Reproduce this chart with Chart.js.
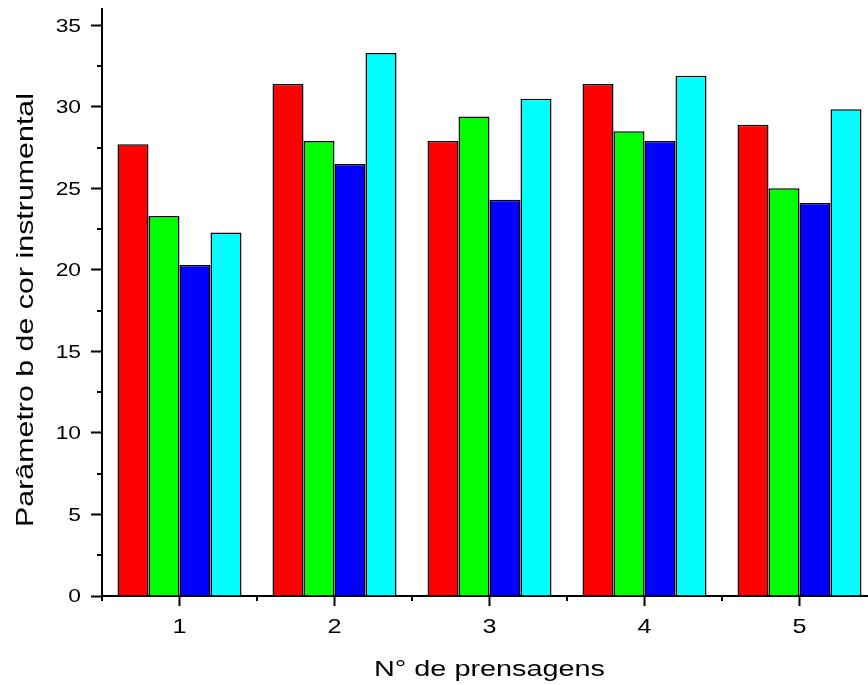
<!DOCTYPE html>
<html>
<head>
<meta charset="utf-8">
<script src="https://cdn.jsdelivr.net/npm/chart.js@4/dist/chart.umd.min.js"></script>
<style>
  html, body { margin: 0; padding: 0; overflow: hidden; background: #fff; }
  #wrap { position: relative; width: 880px; height: 685px; }
</style>
</head>
<body>
<div id="wrap"><canvas id="c"></canvas></div>
<script>
// Número de prensagens (eixo x)
const categories = ['1', '2', '3', '4', '5'];

// Parâmetro b de cor instrumental, uma série por cor
const serieVermelha = [27.7, 31.4, 27.9, 31.4, 28.9];
const serieVerde    = [23.3, 27.9, 29.4, 28.5, 25.0];
const serieAzul     = [20.3, 26.5, 24.3, 27.9, 24.1];
const serieCiano    = [22.3, 33.3, 30.5, 31.9, 29.85];

// Marcas do eixo y
const yTickValues = [0, 5, 10, 15, 20, 25, 30, 35];

// Rótulos dos eixos
const xTitle = 'N° de prensagens';
const yTitle = 'Parâmetro b de cor instrumental';

const FONT = '"Liberation Sans", Arial, sans-serif';
const STRETCH = 1.2;   // texto levemente alargado na horizontal

// Marcas secundárias, rótulos das marcas e títulos dos eixos
const extras = {
  id: 'extras',
  afterDraw(chart) {
    const ctx = chart.ctx;
    const a = chart.chartArea;
    const y = chart.scales.y;
    const x = chart.scales.x;
    ctx.save();
    ctx.strokeStyle = '#000';
    ctx.lineWidth = 2;
    ctx.beginPath();
    for (let v = 2.5; v < y.max; v += 5) {
      const py = Math.round(y.getPixelForValue(v));
      ctx.moveTo(a.left - 5, py);
      ctx.lineTo(a.left, py);
    }
    const n = categories.length;
    for (let i = 0; i <= n; i++) {
      const px = Math.round(a.left + i * (a.right - a.left) / n);
      ctx.moveTo(px, a.bottom);
      ctx.lineTo(px, a.bottom + 5);
    }
    ctx.stroke();

    ctx.fillStyle = '#000';
    // y tick labels
    ctx.font = '19px ' + FONT;
    ctx.textAlign = 'right';
    ctx.textBaseline = 'middle';
    yTickValues.forEach(v => {
      ctx.save();
      ctx.translate(a.left - 21, y.getPixelForValue(v) + 1);
      ctx.scale(STRETCH, 1);
      ctx.fillText(String(v), 0, 0);
      ctx.restore();
    });
    // x tick labels
    ctx.font = '21px ' + FONT;
    ctx.textAlign = 'center';
    ctx.textBaseline = 'alphabetic';
    categories.forEach((c, i) => {
      ctx.save();
      ctx.translate(x.getPixelForValue(i), a.bottom + 37);
      ctx.scale(STRETCH, 1);
      ctx.fillText(c, 0, 0);
      ctx.restore();
    });

    // x title
    ctx.font = '22px ' + FONT;
    let w = ctx.measureText(xTitle).width;
    ctx.save();
    ctx.translate((a.left + a.right) / 2, 676);
    ctx.scale(231 / w, 1);
    ctx.fillText(xTitle, 0, 0);
    ctx.restore();
    // y title
    ctx.font = '24px ' + FONT;
    w = ctx.measureText(yTitle).width;
    ctx.save();
    ctx.translate(33, 310);
    ctx.rotate(-Math.PI / 2);
    ctx.scale(434 / w, 1);
    ctx.fillText(yTitle, 0, 0);
    ctx.restore();
    ctx.restore();
  }
};

const mk = (label, data, color) => ({
  label, data,
  backgroundColor: color,
  borderColor: '#000',
  borderWidth: 1.5,
  categoryPercentage: 0.8,
  barPercentage: 1.0
});

new Chart(document.getElementById('c'), {
  type: 'bar',
  data: {
    labels: categories,
    datasets: [
      mk('A', serieVermelha, '#FF0000'),
      mk('B', serieVerde, '#00FF00'),
      mk('C', serieAzul, '#0000FF'),
      mk('D', serieCiano, '#00FFFF')
    ]
  },
  options: {
    responsive: true,
    maintainAspectRatio: false,
    animation: false,
    layout: { padding: { top: 9, right: 3, left: 0, bottom: 0 } },
    plugins: { legend: { display: false }, tooltip: { enabled: false } },
    scales: {
      x: {
        offset: true,
        grid: { display: true, offset: false, drawOnChartArea: false, drawTicks: true,
                tickLength: 10, tickColor: '#000', tickWidth: 2 },
        border: { display: true, color: '#000', width: 2 },
        ticks: { display: false },
        afterFit(s) { s.height = 89; }
      },
      y: {
        min: 0, max: 36,
        afterBuildTicks(s) { s.ticks = yTickValues.map(v => ({ value: v })); },
        grid: { display: true, drawOnChartArea: false, drawTicks: true,
                tickLength: 11, tickColor: '#000', tickWidth: 2 },
        border: { display: true, color: '#000', width: 2 },
        ticks: { display: false },
        afterFit(s) { s.width = 102; }
      }
    }
  },
  plugins: [extras]
});
</script>
</body>
</html>
